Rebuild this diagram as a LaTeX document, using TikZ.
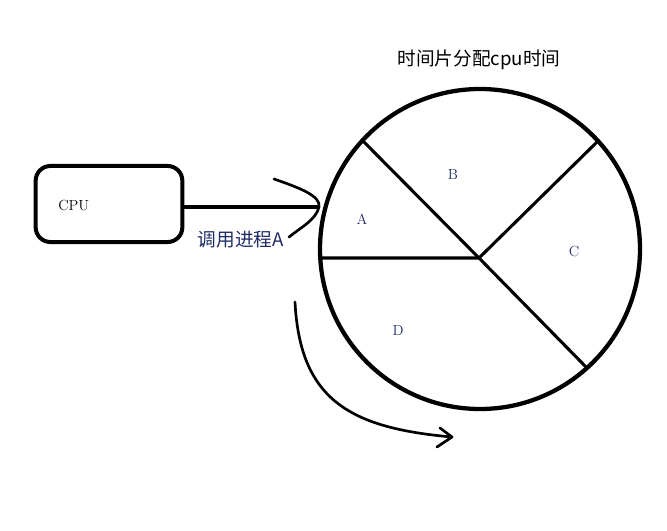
\documentclass[tikz,border=0pt]{standalone}
\usepackage{fontspec}
\newfontfamily\cjk{Noto Sans CJK SC}
\usetikzlibrary{positioning}
\definecolor{labelblue}{rgb}{0.12,0.17,0.40}
\definecolor{pen}{rgb}{0,0,0}

\begin{document}
\begin{tikzpicture}[x=0.75pt,y=-0.75pt,font=\fontsize{11}{13}\selectfont,
  stroke/.style={pen,line width=2.3pt,line cap=round,line join=round},
  thinstroke/.style={pen,line width=2pt,line cap=round,line join=round},
  lbl/.style={text=labelblue,inner sep=0pt},
  cjktext/.style={inner sep=0pt,font=\cjk\fontsize{14}{16}\selectfont}]
  \useasboundingbox (0,0) rectangle (667,531);
  % time slice wheel
  \coordinate(O)at(480,249);\coordinate(M)at(479,258);
  \coordinate(ul)at(362,140);\coordinate(ur)at(597,142);
  \coordinate(lr)at(587,368);\coordinate(le)at(321,258);
  \draw[pen,line width=3.2pt] (O) circle (160);
  \draw[stroke] (ul)--(M)--(lr);
  \draw[stroke] (le)--(M)--(ur);
  \node[lbl] (a) at (362,219) {A};
  \node[lbl] (b) at (453,174) {B};
  \node[lbl] (c) at (574,251) {C};
  \node[lbl] (d) at (398,330) {D};
  \node[cjktext] (title) at (479,60) {时间片分配cpu时间};
  % cpu box and call
  \node[draw,pen,line width=3pt,rounded corners=11pt,minimum width=110pt,
        minimum height=57pt] (cpu) at (109,204) {};
  \node[inner sep=0pt,anchor=west] (cputxt) at (58,205) {CPU};
  \coordinate(tip)at(320,207);
  \draw[pen,line width=3pt] (cpu.east|-tip)--(tip);
  \draw[thinstroke] (274,179) .. controls (300,188) and (321,196) .. (319,207)
    .. controls (316,220) and (300,228) .. (289,237);
  \node[cjktext,text=labelblue,anchor=east] (call) at (284,240) {调用进程A};
  % rotation arrow
  \coordinate(s)at(295,302);\coordinate(e)at(452,437);
  \draw[thinstroke] (s) .. controls (300,400) and (350,428) .. (e);
  \draw[thinstroke] (440,428)--(e)--(437,447);
\end{tikzpicture}
\end{document}
